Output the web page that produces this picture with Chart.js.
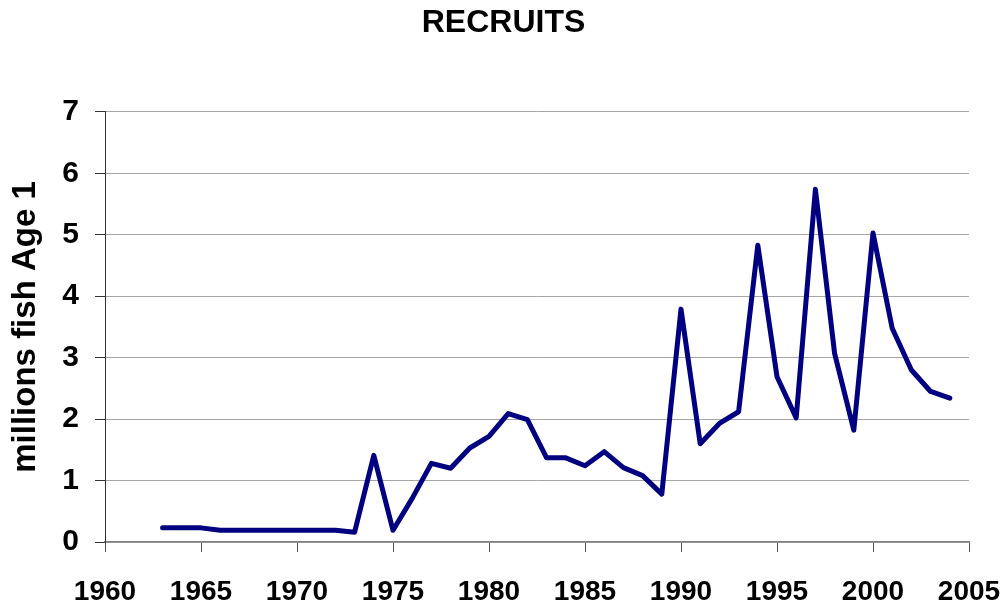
<!DOCTYPE html>
<html lang="en">
<head>
    <meta charset="UTF-8">
    <title>Recruits</title>
    <script src="https://cdn.jsdelivr.net/npm/chart.js"></script>
    <style>
        html, body { margin: 0; padding: 0; background: #fff; }
        #wrap { width: 1007px; height: 604px; }
    </style>
</head>
<body>
    <div id="wrap"><canvas id="myChart" width="1007" height="604"></canvas></div>
    <script>
        const years = [1963, 1964, 1965, 1966, 1967, 1968, 1969, 1970, 1971, 1972, 1973, 1974,
            1975, 1976, 1977, 1978, 1979, 1980, 1981, 1982, 1983, 1984, 1985, 1986, 1987,
            1988, 1989, 1990, 1991, 1992, 1993, 1994, 1995, 1996, 1997, 1998, 1999, 2000,
            2001, 2002, 2003, 2004];
        const recruits = [0.23, 0.23, 0.23, 0.19, 0.19, 0.19, 0.19, 0.19, 0.19, 0.19, 0.16, 1.41,
            0.19, 0.71, 1.28, 1.20, 1.53, 1.72, 2.09, 1.99, 1.37, 1.37, 1.24, 1.47, 1.21,
            1.08, 0.78, 3.79, 1.60, 1.93, 2.12, 4.83, 2.69, 2.02, 5.74, 3.07, 1.82, 5.03,
            3.48, 2.80, 2.45, 2.34];

        const fontFamily = "'Liberation Sans', Arial, sans-serif";

        let points = years.map((y, i) => ({ x: y, y: recruits[i] }));

        let ctx = document.getElementById('myChart').getContext('2d');
        let myChart = new Chart(ctx, {
            type: 'line',
            data: {
                datasets: [{
                    label: 'Recruits',
                    data: points,
                    borderColor: '#000080',
                    backgroundColor: '#000080',
                    borderWidth: 5,
                    pointRadius: 0,
                    tension: 0,
                    borderJoinStyle: 'round',
                    borderCapStyle: 'round',
                    fill: false
                }]
            },
            options: {
                responsive: false,
                animation: false,
                layout: { padding: 0 },
                plugins: {
                    legend: { display: false },
                    tooltip: { enabled: false },
                    title: {
                        display: true,
                        text: 'RECRUITS',
                        color: '#000',
                        font: { family: fontFamily, size: 32, weight: 'bold', lineHeight: 1.2 },
                        padding: { top: 4, bottom: 69.5 }
                    }
                },
                scales: {
                    x: {
                        type: 'linear',
                        min: 1960,
                        max: 2005,
                        border: { color: '#808080', width: 1.5 },
                        grid: { drawOnChartArea: false, tickLength: 10, tickColor: '#555' },
                        ticks: {
                            stepSize: 5,
                            color: '#000',
                            padding: 23,
                            maxRotation: 0,
                            font: { family: fontFamily, size: 28, weight: 'bold' },
                            callback: (v) => String(v)
                        },
                        afterFit: (scale) => {
                            scale.height = 62;
                            // keep the plot's right edge where the reference has it
                            scale.paddingRight = 38;
                            scale.paddingLeft = 0;
                        }
                    },
                    y: {
                        min: 0,
                        max: 7,
                        border: { color: '#333', width: 1 },
                        grid: { color: '#a6a6a6', tickLength: 10, tickColor: '#333' },
                        ticks: {
                            stepSize: 1,
                            color: '#000',
                            padding: 16,
                            font: { family: fontFamily, size: 30, weight: 'bold' }
                        },
                        title: {
                            display: true,
                            text: 'millions fish Age 1',
                            color: '#000',
                            font: { family: fontFamily, size: 33, weight: 'bold', lineHeight: 1.2 },
                            padding: { top: 6, bottom: 0 }
                        },
                        afterFit: (scale) => { scale.width = 105; }
                    }
                }
            }
        });
    </script>
</body>
</html>
